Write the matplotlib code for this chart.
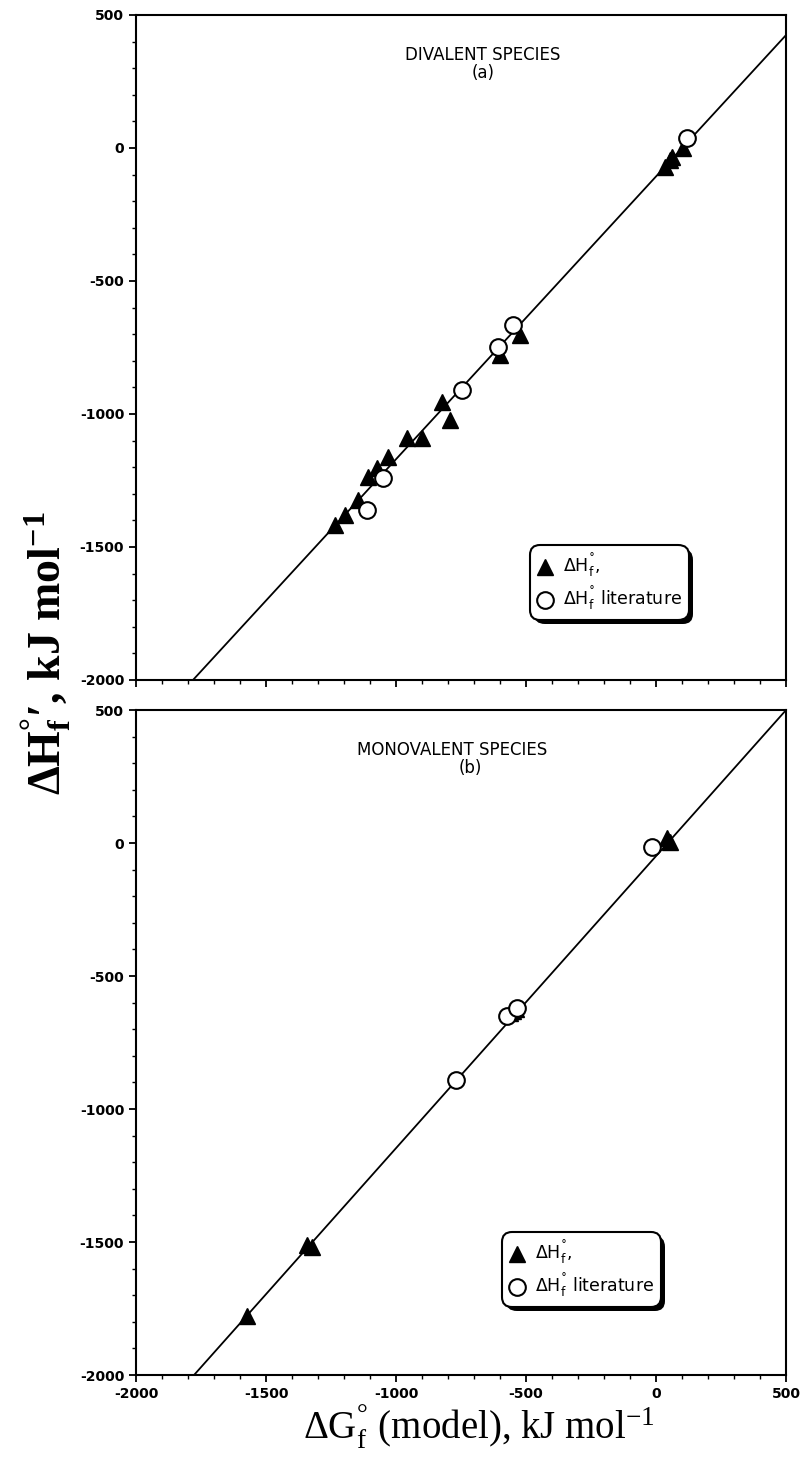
import numpy as np
import matplotlib
matplotlib.use('Agg')
import matplotlib.pyplot as plt
import matplotlib.patheffects as pe
from matplotlib.ticker import MultipleLocator

plt.rcParams['axes.unicode_minus'] = False
plt.rcParams['mathtext.default'] = 'regular'

# ---------- data (kJ/mol) ----------

# divalent species: model dG vs dH
div_tri_x = [-824, -792, -959, -901, -1030, -1074, -1107, -1145, -1196, -1235, -523, -600, 105, 54, 34, 60]
div_tri_y = [-954, -1022, -1091, -1091, -1160, -1204, -1236, -1323, -1380, -1417, -703, -778, 1, -45, -70, -35]
div_cir_x = [-747, -1049, -1113, -549, -607, 118]
div_cir_y = [-910, -1242, -1361, -665, -747, 36]
div_fit = [1.063, -107]

# monovalent species
mono_tri_x = [41, 54, -560, -550, -540, -1343, -1324, -1573]
mono_tri_y = [18, 5, -640, -630, -625, -1511, -1517, -1780]
mono_cir_x = [-17, -575, -535, -770]
mono_cir_y = [-14, -650, -620, -890]
mono_fit = [1.098, -49]

ticks = [-2000, -1500, -1000, -500, 0, 500]

lab_tri = u'\u0394H$^{\u02da}_{f}$,'
lab_cir = u'\u0394H$^{\u02da}_{f}$ literature'

# ---------- plot ----------

fig = plt.figure(figsize=(8.03, 14.67), dpi=100)
ax1 = fig.add_axes([0.1694, 0.5365, 0.8095, 0.4533])
ax2 = fig.add_axes([0.1694, 0.0627, 0.8095, 0.4533])

panels = [(ax1, div_tri_x, div_tri_y, div_cir_x, div_cir_y, div_fit, 'DIVALENT SPECIES', '(a)', 0.534, 0.0, (0.606, 0.09)),
          (ax2, mono_tri_x, mono_tri_y, mono_cir_x, mono_cir_y, mono_fit, 'MONOVALENT SPECIES', '(b)', 0.487, 0.027, (0.563, 0.102))]

for ax, tx, ty, cx, cy, fit, title, tag, tpos, toff, lpos in panels:
    xl = np.array([-2000, 500])
    ax.plot(xl, fit[0]*xl + fit[1], color='k', lw=1.3, zorder=1)
    t, = ax.plot(tx, ty, '^', color='k', ms=12, ls='none', zorder=2)
    c, = ax.plot(cx, cy, 'o', mfc='white', mec='k', mew=1.5, ms=12, ls='none', zorder=3)

    ax.set_xlim(-2000, 500)
    ax.set_ylim(-2000, 500)
    ax.set_xticks(ticks)
    ax.set_yticks(ticks)
    ax.xaxis.set_minor_locator(MultipleLocator(100))
    ax.yaxis.set_minor_locator(MultipleLocator(100))
    ax.tick_params(which='major', direction='out', length=5, width=1.3, top=False, right=False)
    ax.tick_params(which='minor', direction='out', length=3, width=1, top=False, right=False)
    for s in ax.spines.values():
        s.set_linewidth(1.5)
    for lbl in ax.get_xticklabels() + ax.get_yticklabels():
        lbl.set_fontweight('bold')
        lbl.set_fontsize(10)

    ax.text(tpos, 0.94, title, transform=ax.transAxes, ha='center', va='center',
            fontsize=12, family='DejaVu Sans')
    ax.text(tpos + toff, 0.913, tag, transform=ax.transAxes, ha='center', va='center',
            fontsize=12, family='DejaVu Sans')

    leg = ax.legend([t, c], [lab_tri, lab_cir], loc='lower left', bbox_to_anchor=lpos,
                    fancybox=True, shadow=False, framealpha=1, edgecolor='k',
                    prop={'family': 'DejaVu Sans', 'size': 12.5}, markerscale=1.0,
                    handlelength=0.9, handletextpad=0.6, borderpad=0.4, labelspacing=0.3,
                    borderaxespad=0)
    frame = leg.get_frame()
    frame.set_linewidth(1.5)
    frame.set_boxstyle('round,pad=0,rounding_size=0.6')
    frame.set_path_effects([pe.SimplePatchShadow(offset=(3, -3), shadow_rgbFace='k', alpha=1),
                            pe.Normal()])

ax1.set_xticklabels([])

fig.text(0.058, 0.555, u'\u0394H$^{\u00b0}_{f}$\u2032, kJ mol$^{-1}$', rotation=90,
         ha='center', va='center', fontsize=33, fontweight='bold', family='Liberation Serif')
fig.text(0.596, 0.019, u'\u0394G$^{\u00b0}_{f}$ (model), kJ mol$^{-1}$',
         ha='center', va='baseline', fontsize=28, family='Liberation Serif')

plt.savefig('out.png', dpi=100)
